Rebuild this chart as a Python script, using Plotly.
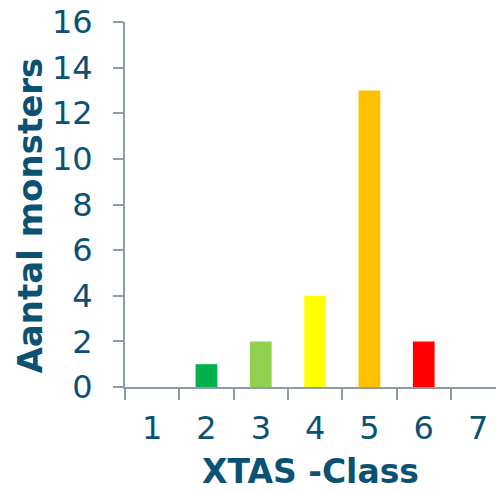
import plotly.graph_objects as go

categories = ["1", "2", "3", "4", "5", "6", "7"]
counts = [0, 1, 2, 4, 13, 2, 0]
bar_colors = ["#00B050", "#00B050", "#92D050", "#FFFF00", "#FFC000", "#FF0000", "#FF0000"]
y_ticks = [0, 2, 4, 6, 8, 10, 12, 14, 16]

text_color = "#0B5174"
axis_color = "#8E9BA8"

fig = go.Figure(go.Bar(x=categories, y=counts, marker=dict(color=bar_colors, line=dict(width=0))))

fig.update_layout(
    width=496, height=491,
    margin=dict(l=125, r=0, t=22, b=104),
    plot_bgcolor="white", paper_bgcolor="white",
    bargap=0.6,
    showlegend=False,
    font=dict(family="DejaVu Sans", color=text_color),
    annotations=[dict(
        text="<b>Aantal monsters</b>", textangle=-90,
        xref="paper", yref="paper", x=-0.256, y=0.47,
        xanchor="center", yanchor="middle", showarrow=False,
        font=dict(size=34, color=text_color),
    )],
)
fig.update_xaxes(
    type="category",
    range=[-0.5, 6.33],
    automargin=False,
    showline=True, linecolor=axis_color, linewidth=2,
    ticks="outside", tickson="boundaries", ticklen=11, tickwidth=2, tickcolor=axis_color,
    tickfont=dict(size=32, color=text_color),
    ticklabelstandoff=12,
    ticklabeloverflow="allow",
    showgrid=False, zeroline=False,
    title=dict(text="<b>XTAS -Class</b>", font=dict(size=33, color=text_color), standoff=16),
)
fig.update_yaxes(
    range=[0, 16],
    tickvals=y_ticks,
    automargin=False,
    showline=True, linecolor=axis_color, linewidth=2,
    ticks="outside", ticklen=10, tickwidth=2, tickcolor=axis_color,
    tickfont=dict(size=32, color=text_color),
    ticklabelstandoff=14,
    ticklabeloverflow="allow",
    showgrid=False, zeroline=False,
)

fig.write_html("out.html", config={"displayModeBar": False},
               post_script="document.body.style.margin='0';")
